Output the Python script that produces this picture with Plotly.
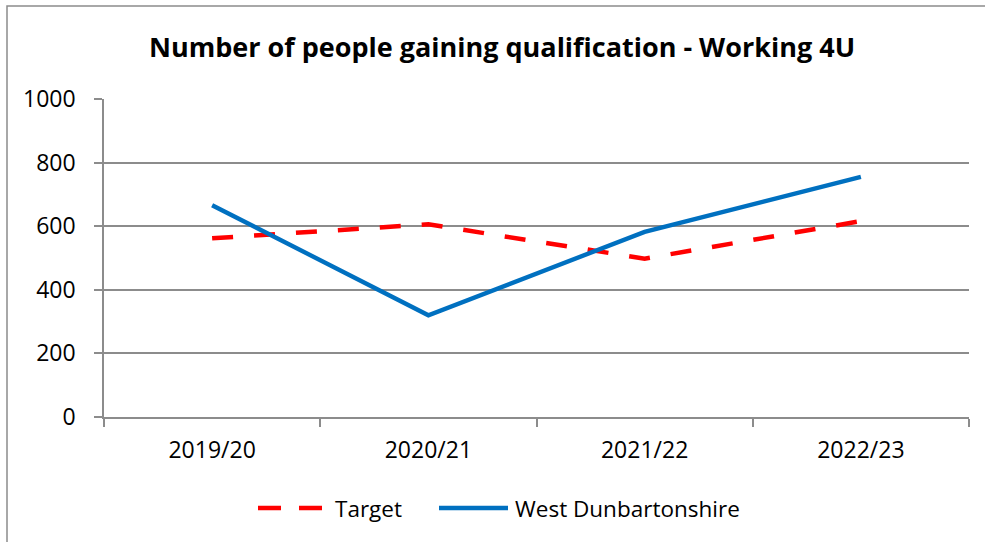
import plotly.graph_objects as go

categories = ["2019/20", "2020/21", "2021/22", "2022/23"]
target = [562, 606, 498, 616]
west_dunbartonshire = [666, 320, 582, 755]
y_ticks = [0, 200, 400, 600, 800, 1000]

W, H = 985, 542
L, R, T, B = 104, 16, 99, 125
PW, PH = W - L - R, H - T - B

def px_x(x):
    return (x - L) / PW

def px_y(y):
    return (H - B - y) / PH

FONT = "Open Sans"
GRID = "#8c8c8c"
RED = "#FF0000"
BLUE = "#0070C0"

fig = go.Figure()
fig.add_trace(go.Scatter(x=categories, y=target, mode="lines", name="Target",
                         line=dict(color=RED, width=4.5, dash="21px,21px"), showlegend=False))
fig.add_trace(go.Scatter(x=categories, y=west_dunbartonshire, mode="lines", name="West Dunbartonshire",
                         line=dict(color=BLUE, width=4.4), showlegend=False))

shapes = [
    dict(type="rect", xref="paper", yref="paper", x0=px_x(7), x1=px_x(1010), y0=px_y(570), y1=px_y(6),
         line=dict(color="#8c8c8c", width=1.5), fillcolor="rgba(0,0,0,0)", layer="below"),
    dict(type="line", xref="paper", yref="paper", x0=px_x(258), x1=px_x(322), y0=px_y(508), y1=px_y(508),
         line=dict(color=RED, width=4.5, dash="23px,18px")),
    dict(type="line", xref="paper", yref="paper", x0=px_x(439), x1=px_x(508), y0=px_y(508), y1=px_y(508),
         line=dict(color=BLUE, width=4.4)),
]
annotations = [
    dict(text="Target", xref="paper", yref="paper", x=px_x(333), y=px_y(508), xanchor="left", yanchor="middle",
         showarrow=False, font=dict(family=FONT, size=22.5, color="#000")),
    dict(text="West Dunbartonshire", xref="paper", yref="paper", x=px_x(513), y=px_y(508), xanchor="left",
         yanchor="middle", showarrow=False, font=dict(family=FONT, size=22.5, color="#000")),
]

fig.update_layout(
    width=W, height=H,
    margin=dict(l=L, r=R, t=T, b=B, pad=0),
    paper_bgcolor="white", plot_bgcolor="white",
    title=dict(text="<b>Number of people gaining qualification - Working 4U</b>",
               x=502 / W, xanchor="center", y=1 - 48 / H, yanchor="middle",
               xref="container", yref="container",
               font=dict(family=FONT, size=27, color="#000")),
    shapes=shapes, annotations=annotations,
    showlegend=False,
)
fig.update_xaxes(type="category", tickson="boundaries", ticks="outside", ticklen=8, tickwidth=1.5,
                 tickcolor=GRID, showline=True, linecolor=GRID, linewidth=1.5, showgrid=False,
                 tickfont=dict(family=FONT, size=23, color="#000"), ticklabelstandoff=12,
                 range=[-0.5, 3.5])
fig.update_yaxes(range=[0, 1000], tickvals=y_ticks, ticks="outside", ticklen=8, tickwidth=1.5,
                 tickcolor=GRID, showline=True, linecolor=GRID, linewidth=1.5, showgrid=True,
                 gridcolor=GRID, gridwidth=1.5, zeroline=False,
                 tickfont=dict(family=FONT, size=23, color="#000"), ticklabelstandoff=14)

fig.write_html("out.html", config={"displayModeBar": False},
               post_script="document.body.style.margin='0';document.body.style.overflow='hidden';")
